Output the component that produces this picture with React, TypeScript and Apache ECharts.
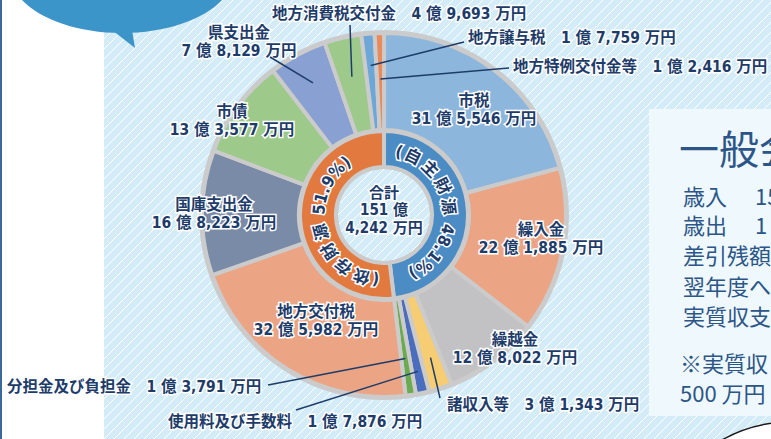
import React, { useEffect, useRef } from 'react';
import * as echarts from 'echarts';

// ---- data (万円) ----
const categories = [
  '市税', '繰入金', '繰越金', '諸収入等', '使用料及び手数料', '分担金及び負担金',
  '地方交付税', '国庫支出金', '市債', '県支出金', '地方消費税交付金', '地方譲与税', '地方特例交付金等',
];
const values = [315546, 221885, 128022, 31343, 17876, 13791, 325982, 168223, 133577, 78129, 49693, 17759, 12416];
const groupNames = ['自主財源', '依存財源'];
const groupCounts = [6, 7];

// ---- styles ----
const sliceColors = [
  '#8cb6dc', '#eba585', '#c2c2c4', '#f6cd72', '#4a6dbd', '#6aab50',
  '#eba585', '#7a8ba8', '#9dc98b', '#88a0d2', '#9dc98b', '#6ca7d8', '#ea8a5a',
];
const groupColors = ['#4b8cc5', '#e27a3f'];
const GRAY = '#cbcbcb';
const NAVY = '#1e3c6a';
const FF = "'DejaVu Sans Condensed', 'Noto Sans CJK JP', sans-serif";
const CJK = "'Noto Sans CJK JP', sans-serif";
const CX = 384;
const CY = 215;

// label placement (layout only)
type LL = { x: number; y: number; align: string; two: boolean; line?: number[]; r?: number };
const labelLayouts: LL[] = [
  { x: 474, y: 110, align: 'center', two: true },
  { x: 541, y: 239, align: 'center', two: true },
  { x: 515, y: 349, align: 'center', two: true },
  { x: 447, y: 405, align: 'left', two: false, line: [440, 398], r: 150 },
  { x: 168, y: 422, align: 'left', two: false, line: [296, 410], r: 160 },
  { x: 7, y: 387, align: 'left', two: false, line: [268, 385], r: 145 },
  { x: 316, y: 321, align: 'center', two: true },
  { x: 214, y: 214, align: 'center', two: true },
  { x: 232, y: 121, align: 'center', two: true },
  { x: 239, y: 42, align: 'center', two: true, line: [270, 57], r: 150 },
  { x: 272, y: 14, align: 'left', two: false, line: [350, 25], r: 142 },
  { x: 468, y: 38, align: 'left', two: false, line: [464, 42], r: 150 },
  { x: 513, y: 67, align: 'left', two: false, line: [509, 68], r: 136 },
];

const total = values.reduce((a, b) => a + b, 0);
const groupValues = [
  values.slice(0, groupCounts[0]).reduce((a, b) => a + b, 0),
  values.slice(groupCounts[0]).reduce((a, b) => a + b, 0),
];

function fmt(v: number) {
  const oku = Math.floor(v / 10000);
  const man = v % 10000;
  return `${oku} 億 ${man.toLocaleString('en-US')} 万円`;
}

function anchor(i: number, r: number) {
  let cum = 0;
  for (let k = 0; k < i; k++) cum += values[k];
  const mid = (cum + values[i] / 2) / total;
  const th = mid * Math.PI * 2;
  return [CX + r * Math.sin(th), CY - r * Math.cos(th)];
}

function advance(ch: string) {
  if (/[0-9]/.test(ch)) return 9;
  if (ch === '.') return 5;
  if (ch === '%') return 13;
  if (ch === '(' || ch === ')') return 6;
  if (ch === ' ') return 5;
  return 16;
}

function arcText(text: string, a0: number, a1: number, r: number) {
  const chars = Array.from(text);
  const advs = chars.map(advance);
  const tot = advs.reduce((a, b) => a + b, 0);
  let cum = 0;
  const els: any[] = [];
  chars.forEach((ch, i) => {
    const t = (cum + advs[i] / 2) / tot;
    cum += advs[i];
    if (ch === ' ') return;
    const deg = a0 + (a1 - a0) * t;
    const th = (deg * Math.PI) / 180;
    els.push({
      type: 'text',
      x: CX + r * Math.sin(th),
      y: CY - r * Math.cos(th),
      rotation: -th,
      z: 10,
      style: {
        text: ch,
        fill: NAVY,
        stroke: '#fff',
        lineWidth: 3,
        font: `bold 16.5px ${FF}`,
        align: 'center',
        verticalAlign: 'middle',
      },
    });
  });
  return els;
}

const pct0 = ((groupValues[0] / total) * 100).toFixed(1);
const pct1 = ((groupValues[1] / total) * 100).toFixed(1);

function leaderLines() {
  const els: any[] = [];
  labelLayouts.forEach((L, i) => {
    if (!L.line) return;
    const [ax, ay] = anchor(i, L.r as number);
    els.push({
      type: 'line', z: 20, silent: true,
      shape: { x1: L.line[0], y1: L.line[1], x2: ax, y2: ay },
      style: { stroke: NAVY, lineWidth: 1.5 },
    });
  });
  return els;
}

function buildOption(): any {
  const panelText = (text: string, x: number, y: number, size: number) => ({
    type: 'text', x, y, z: 5,
    style: { text, fill: '#2b5687', font: `${size}px ${CJK}`, align: 'left', verticalAlign: 'middle' },
  });
  return {
    animation: false,
    backgroundColor: 'transparent',
    graphic: {
      elements: [
        { type: 'ellipse', shape: { cx: 122, cy: -27, rx: 112, ry: 60 }, style: { fill: '#3c95c9' } },
        { type: 'polygon', shape: { points: [[112, 30], [135, 48], [132, 30]] }, style: { fill: '#3c95c9' } },
        { type: 'rect', shape: { x: 649, y: 109, width: 130, height: 307 }, style: { fill: '#eff8fd' } },
        panelText('一般会計', 679, 147, 40),
        panelText('歳入', 683, 195, 22),
        panelText('151 億 4,242 万円', 755, 195, 22),
        panelText('歳出', 683, 224, 22),
        panelText('1', 755, 224, 22),
        panelText('差引残額', 683, 254, 22),
        panelText('翌年度へ', 683, 285, 22),
        panelText('実質収支', 683, 315, 22),
        panelText('※実質収', 680, 362, 22),
        panelText('500 万円', 680, 392, 22),
        { type: 'circle', shape: { cx: 790, cy: 560, r: 138 }, style: { fill: '#ffffff', stroke: '#1a1a1a', lineWidth: 1.5 } },
        {
          type: 'text', x: CX, y: 210, z: 10,
          style: {
            text: `合計\n${Math.floor(total / 10000)} 億\n${(total % 10000).toLocaleString('en-US')} 万円`,
            fill: NAVY, stroke: '#fff', lineWidth: 3, font: `bold 15px ${FF}`, lineHeight: 17.5,
            align: 'center', verticalAlign: 'middle',
          },
        },
        ...arcText(`(${groupNames[0]} ${pct0}%)`, 10, 157, 65),
        ...arcText(`(${groupNames[1]} ${pct1}%)`, 184, 328, 65),
        ...leaderLines(),
      ],
    },
    series: [
      {
        type: 'pie', center: [CX, CY], radius: [46, 185], silent: true,
        label: { show: false }, labelLine: { show: false },
        data: [{ value: 1, itemStyle: { color: GRAY } }],
      },
      {
        type: 'pie', center: [CX, CY], radius: [48, 84], startAngle: 90, silent: true,
        itemStyle: { borderColor: GRAY, borderWidth: 4 },
        label: { show: false }, labelLine: { show: false },
        data: groupNames.map((n, i) => ({ name: n, value: groupValues[i], itemStyle: { color: groupColors[i] } })),
      },
      {
        type: 'pie', center: [CX, CY], radius: [85, 182], startAngle: 90, silent: true,
        avoidLabelOverlap: false,
        itemStyle: { borderColor: GRAY, borderWidth: 4 },
        label: {
          show: true, position: 'outside', overflow: 'none',
          color: NAVY, fontWeight: 'bold', fontSize: 15.5, lineHeight: 18, fontFamily: FF,
          textBorderColor: '#fff', textBorderWidth: 3,
          formatter: (p: any) => {
            const L = labelLayouts[p.dataIndex];
            return L.two ? `${p.name}\n${fmt(p.value)}` : `${p.name}　${fmt(p.value)}`;
          },
        },
        labelLine: { show: false },
        labelLayout: (params: any) => {
          const L = labelLayouts[params.dataIndex];
          return { x: L.x, y: L.y, align: L.align, verticalAlign: 'middle' };
        },
        data: categories.map((n, i) => ({
          name: n,
          value: values[i],
          itemStyle: { color: sliceColors[i] },
        })),
      },
    ],
  };
}

export default function App() {
  const ref = useRef<HTMLDivElement>(null);
  useEffect(() => {
    document.body.style.margin = '0';
    const chart = echarts.init(ref.current as HTMLDivElement, null, { renderer: 'svg' });
    chart.setOption(buildOption());
    return () => chart.dispose();
  }, []);
  return (
    <div style={{ position: 'relative', width: 771, height: 439, overflow: 'hidden', background: '#ffffff' }}>
      <div
        style={{
          position: 'absolute', left: 104, top: 0, right: 0, bottom: 0,
          background: 'repeating-linear-gradient(135deg, #d4ebf8 0px, #d4ebf8 5.8px, #ffffff 5.8px, #ffffff 7.07px)',
        }}
      />
      <div style={{ position: 'absolute', left: 0, top: 0, width: 2, height: 439, background: '#3b6999' }} />
      <div ref={ref} style={{ position: 'absolute', left: 0, top: 0, width: 771, height: 439 }} />
    </div>
  );
}
